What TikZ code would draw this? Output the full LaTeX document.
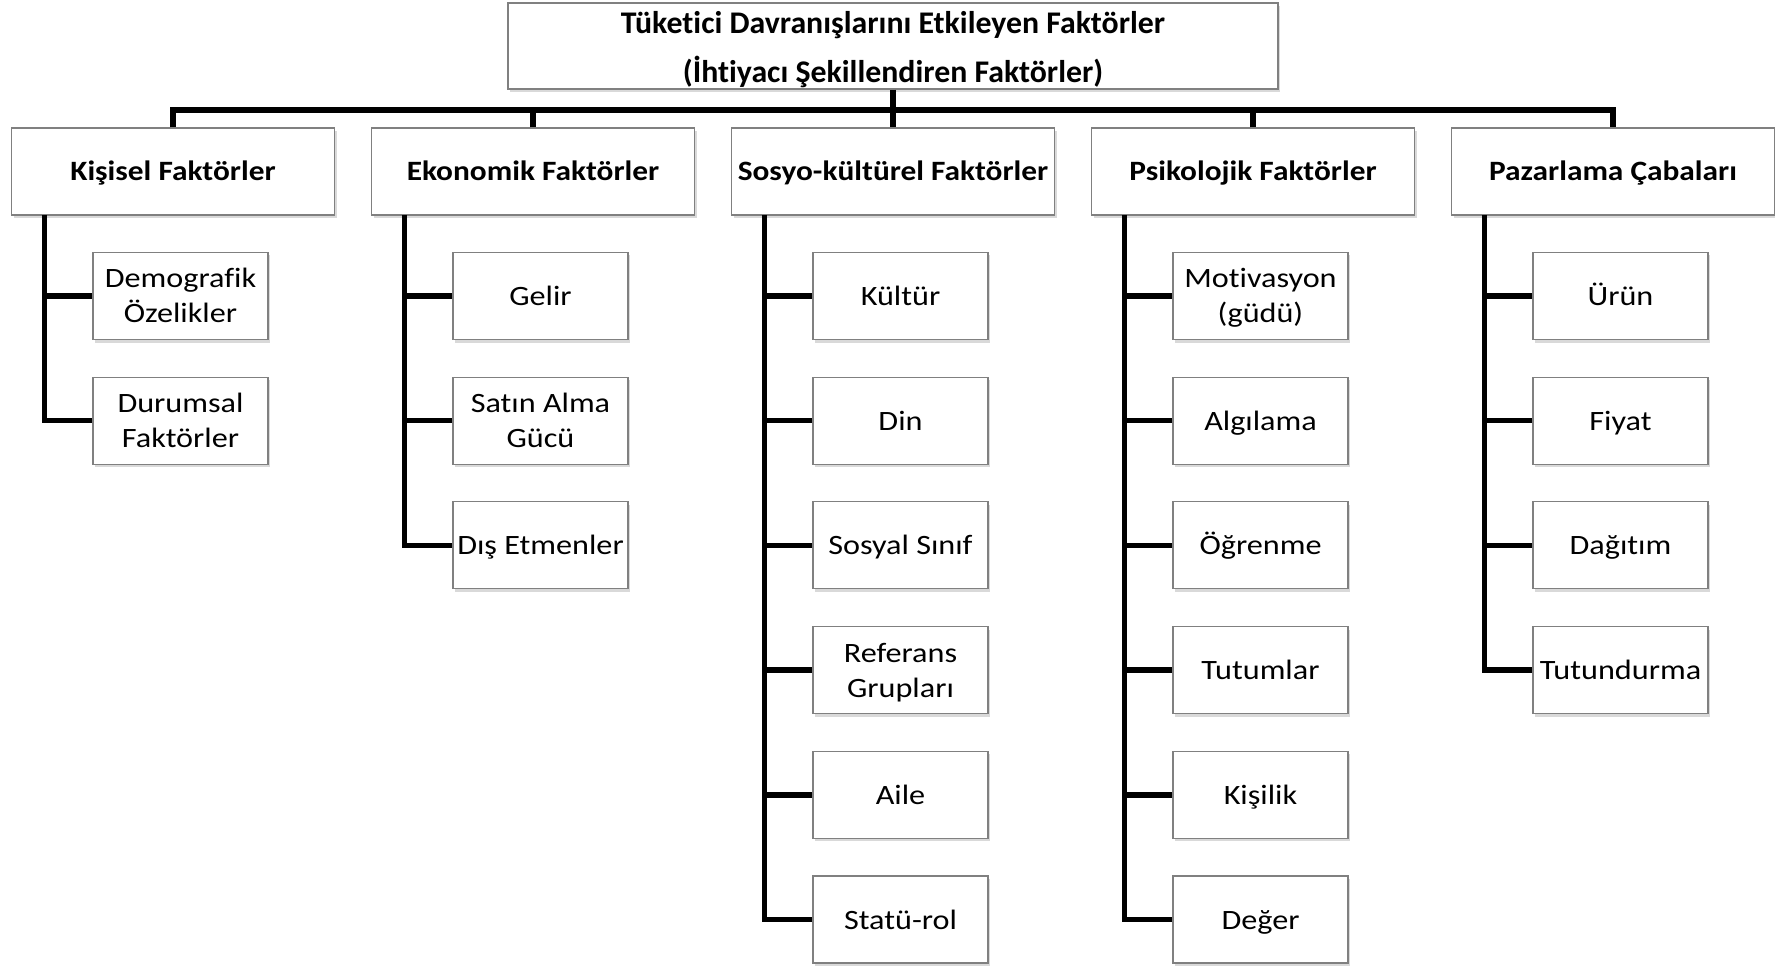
\documentclass[tikz,border=0pt]{standalone}
\usepackage{fontspec}
\setmainfont{Carlito}[Ligatures=NoCommon]
\usetikzlibrary{shadows}
\newcommand\sx[3][-2.5pt]{\raisebox{#1}[\height][\depth]{\scalebox{#2}[1]{\begin{tabular}{@{}c@{}}#3\end{tabular}}}}
\begin{document}
\begin{tikzpicture}[x=1pt,y=-1pt,
 box/.style={draw=black!50, line width=1.1pt, fill=white,
   drop shadow={shadow xshift=2pt,shadow yshift=-3pt,opacity=0.3}, inner sep=0pt, align=center},
 titlebox/.style={box, minimum width=770pt, minimum height=86pt, inner ysep=-8pt, font=\bfseries\fontsize{31.5}{49}\selectfont},
 headbox/.style={box, minimum width=323pt, minimum height=87pt, font=\bfseries\fontsize{28}{34}\selectfont},
 childbox/.style={box, minimum width=175pt, minimum height=87pt, font=\fontsize{28}{35}\selectfont},
 conn/.style={line width=5.5pt, black, line join=miter}]
\useasboundingbox (0,0) rectangle (1775,968);

\node[titlebox] (T) at (893,46) {\sx{1.01}{Tüketici Davranışlarını Etkileyen Faktörler\\(İhtiyacı Şekillendiren Faktörler)}};
\coordinate (busM) at (893,110);

\node[headbox] (H1) at (173,171.5) {\sx{1.12}{Kişisel Faktörler}};
\node[headbox] (H2) at (533,171.5) {\sx{1.12}{Ekonomik Faktörler}};
\node[headbox] (H3) at (893,171.5) {\sx{1.12}{Sosyo-kültürel Faktörler}};
\node[headbox] (H4) at (1253,171.5) {\sx{1.12}{Psikolojik Faktörler}};
\node[headbox] (H5) at (1613,171.5) {\sx{1.12}{Pazarlama Çabaları}};

% group 1
\node[childbox] (C11) at (180.5,296) {\sx{1.15}{Demografik\\Özelikler}};
\node[childbox] (C12) at (180.5,420.7) {\sx{1.15}{Durumsal\\Faktörler}};
% group 2
\node[childbox] (C21) at (540.5,296) {\sx{1.15}{Gelir}};
\node[childbox] (C22) at (540.5,420.7) {\sx{1.15}{Satın Alma\\Gücü}};
\node[childbox] (C23) at (540.5,545.4) {\sx{1.15}{Dış Etmenler}};
% group 3
\node[childbox] (C31) at (900.5,296) {\sx{1.15}{Kültür}};
\node[childbox] (C32) at (900.5,420.7) {\sx{1.15}{Din}};
\node[childbox] (C33) at (900.5,545.4) {\sx{1.15}{Sosyal Sınıf}};
\node[childbox] (C34) at (900.5,670.1) {\sx{1.15}{Referans\\Grupları}};
\node[childbox] (C35) at (900.5,794.8) {\sx{1.15}{Aile}};
\node[childbox] (C36) at (900.5,919.5) {\sx{1.15}{Statü-rol}};
% group 4
\node[childbox] (C41) at (1260.5,296) {\sx{1.15}{Motivasyon\\(güdü)}};
\node[childbox] (C42) at (1260.5,420.7) {\sx{1.15}{Algılama}};
\node[childbox] (C43) at (1260.5,545.4) {\sx{1.15}{Öğrenme}};
\node[childbox] (C44) at (1260.5,670.1) {\sx{1.15}{Tutumlar}};
\node[childbox] (C45) at (1260.5,794.8) {\sx{1.15}{Kişilik}};
\node[childbox] (C46) at (1260.5,919.5) {\sx{1.15}{Değer}};
% group 5
\node[childbox] (C51) at (1620.5,296) {\sx{1.15}{Ürün}};
\node[childbox] (C52) at (1620.5,420.7) {\sx{1.15}{Fiyat}};
\node[childbox] (C53) at (1620.5,545.4) {\sx{1.15}{Dağıtım}};
\node[childbox] (C54) at (1620.5,670.1) {\sx{1.15}{Tutundurma}};

% bus
\draw[conn] (T.south) -- (H3.north);
\draw[conn] (H1.north) -- (H1.north |- busM) -- (H5.north |- busM) -- (H5.north);
\draw[conn] (H2.north) -- (H2.north |- busM);
\draw[conn] (H4.north) -- (H4.north |- busM);

% trunks
\coordinate (K1) at (44.5,215);
\coordinate (K2) at (404.5,215);
\coordinate (K3) at (764.5,215);
\coordinate (K4) at (1124.5,215);
\coordinate (K5) at (1484.5,215);

\draw[conn] (K1) |- (C12.west);
\draw[conn] (K1 |- C11.west) -- (C11.west);

\draw[conn] (K2) |- (C23.west);
\foreach \i in {1,2} \draw[conn] (K2 |- C2\i.west) -- (C2\i.west);

\draw[conn] (K3) |- (C36.west);
\foreach \i in {1,...,5} \draw[conn] (K3 |- C3\i.west) -- (C3\i.west);

\draw[conn] (K4) |- (C46.west);
\foreach \i in {1,...,5} \draw[conn] (K4 |- C4\i.west) -- (C4\i.west);

\draw[conn] (K5) |- (C54.west);
\foreach \i in {1,2,3} \draw[conn] (K5 |- C5\i.west) -- (C5\i.west);
\end{tikzpicture}
\end{document}
